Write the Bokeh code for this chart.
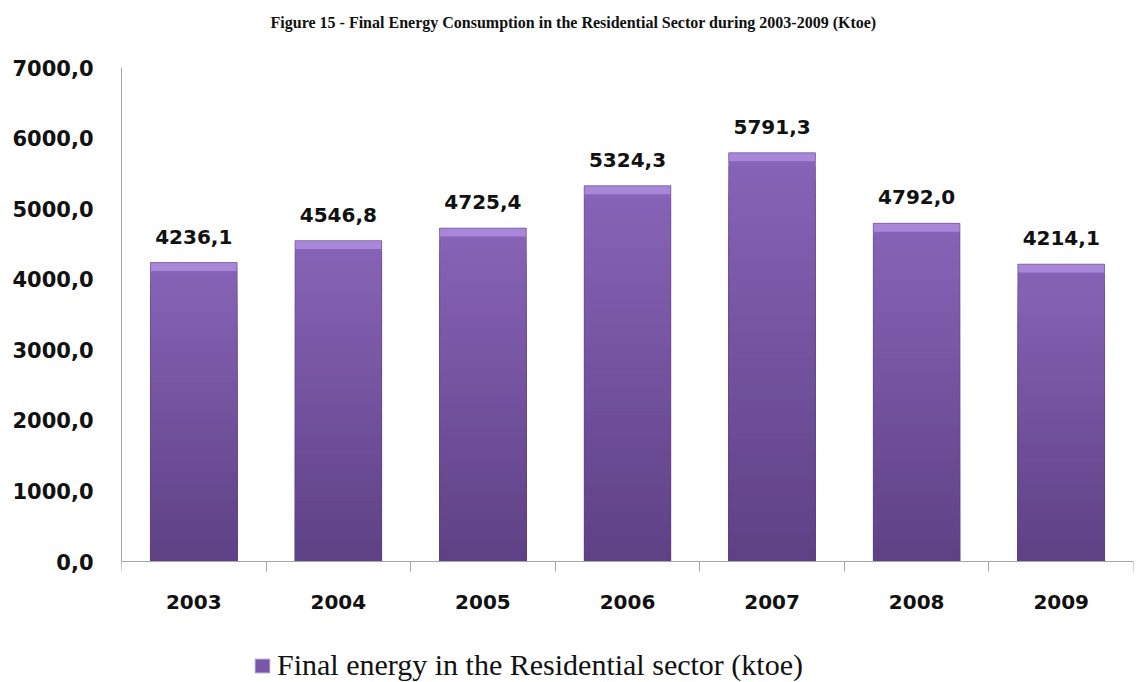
from bokeh.plotting import figure
from bokeh.models import (ColumnDataSource, FixedTicker, Legend, LegendItem, Range1d, Label)
from bokeh.embed import file_html
from bokeh.resources import INLINE
from bokeh.core.properties import value

years = ["2003", "2004", "2005", "2006", "2007", "2008", "2009"]
consumption = [4236.1, 4546.8, 4725.4, 5324.3, 5791.3, 4792.0, 4214.1]
y_ticks = [0, 1000, 2000, 3000, 4000, 5000, 6000, 7000]
title_text = "Figure 15 - Final Energy Consumption in the Residential Sector during 2003-2009 (Ktoe)"
legend_text = "Final energy in the Residential sector (ktoe)"

def fmt(v):
    return f"{v:.1f}".replace(".", ",")

n = len(years)
centers = [i + 0.5 for i in range(n)]

# frame spans the full figure height so title and legend can sit inside it
W, H = 1146, 682
LEFT, RIGHT = 121, 13
TOP7000, AX0 = 67, 561          # pixel rows of the values 7000 and 0
ppu = (AX0 - TOP7000) / 7000.0
y_start = -(H - AX0) / ppu
y_end = 7000 + TOP7000 / ppu

p = figure(width=W, height=H, output_backend="svg", toolbar_location=None,
           x_range=Range1d(0, n), y_range=Range1d(y_start, y_end),
           min_border_left=LEFT, min_border_right=RIGHT, min_border_top=0,
           min_border_bottom=0)
p.outline_line_color = None
p.grid.grid_line_color = None

# gradient bars built as overlapping slices of each bar (tallest first)
top_c = (0x88, 0x64, 0xb8)
bot_c = (0x5f, 0x42, 0x86)
N = 30
xs, tops, cols = [], [], []
for k in range(N):
    f = 1 - k / (N - 1)
    col = tuple(int(bot_c[j] + (top_c[j] - bot_c[j]) * f) for j in range(3))
    for c, v in zip(centers, consumption):
        xs.append(c)
        tops.append(v * (N - k) / N)
        cols.append("#%02x%02x%02x" % col)
src = ColumnDataSource(dict(x=xs, top=tops, color=cols))
p.vbar(x="x", bottom=0, top="top", width=0.6, source=src,
       fill_color="color", line_color=None)

# bar outline and top bevel
bsrc = ColumnDataSource(dict(x=centers, top=consumption,
                             bevel=[v - 120 for v in consumption],
                             zero=[0] * n,
                             label=[fmt(v) for v in consumption]))
p.vbar(x="x", top="top", bottom="bevel", width=0.6, source=bsrc,
       fill_color="#a886d8", line_color=None)
p.vbar(x="x", top="top", bottom=0, width=0.6, source=bsrc,
       fill_color=None, line_color="#5a3f80", line_width=1, line_alpha=0.5)
# zero-height proxy used only for the legend swatch
legend_r = p.vbar(x="x", top="zero", bottom="zero", width=0.6, source=bsrc,
                  fill_color="#7856a8", line_color="#a48ad0", line_width=1)

p.text(x="x", y="top", text="label", source=bsrc, text_align="center",
       text_baseline="bottom", y_offset=-19, text_font=value("DejaVu Sans"),
       text_font_style="bold", text_font_size="20px", text_color="#111111")

# axes
p.yaxis.ticker = FixedTicker(ticks=y_ticks)
p.yaxis.bounds = (0, 7000)
p.yaxis.major_label_overrides = {t: fmt(t) for t in y_ticks}
p.yaxis.major_tick_line_color = None
p.yaxis.minor_tick_line_color = None
p.yaxis.axis_line_color = "#a6a6a6"
p.yaxis.major_label_standoff = 22
p.yaxis.major_label_text_font = "DejaVu Sans"
p.yaxis.major_label_text_font_style = "bold"
p.yaxis.major_label_text_font_size = "21px"
p.yaxis.major_label_text_color = "#111111"

p.xaxis.fixed_location = 0
p.xaxis.ticker = FixedTicker(ticks=centers, minor_ticks=list(range(n + 1)))
p.xaxis.major_label_overrides = {c: y for c, y in zip(centers, years)}
p.xaxis.major_tick_line_color = None
p.xaxis.minor_tick_line_color = "#a6a6a6"
p.xaxis.minor_tick_out = 10
p.xaxis.minor_tick_in = 0
p.xaxis.axis_line_color = "#a6a6a6"
p.xaxis.major_label_standoff = 23
p.xaxis.major_label_text_font = "DejaVu Sans"
p.xaxis.major_label_text_font_style = "bold"
p.xaxis.major_label_text_font_size = "20px"
p.xaxis.major_label_text_color = "#111111"

# title (placed inside the full-height frame, centred on the figure)
title = Label(x=W / 2 - LEFT, y=H - 22, x_units="screen", y_units="screen",
              text=title_text, text_align="center", text_baseline="middle",
              text_font="Liberation Serif", text_font_style="bold",
              text_font_size="16px", text_color="#111111")
p.add_layout(title)

# legend
legend = Legend(items=[LegendItem(label=legend_text, renderers=[legend_r])],
                location=(132, 0), orientation="horizontal",
                label_text_font="Liberation Serif", label_text_font_size="30px",
                label_text_color="#111111", glyph_width=18, glyph_height=17,
                label_standoff=6, border_line_color=None, background_fill_alpha=0,
                padding=0, margin=0)
p.add_layout(legend, "center")

open("out.html", "w").write(file_html(p, INLINE))
